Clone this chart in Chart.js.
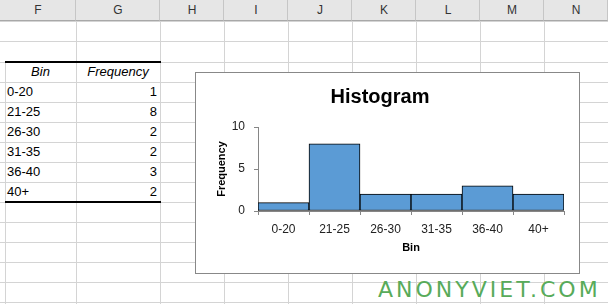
<!DOCTYPE html>
<html>
<head>
<meta charset="utf-8">
<script src="https://cdn.jsdelivr.net/npm/chart.js@4"></script>
<style>
  html, body { margin: 0; padding: 0; background: #fff; }
  #sheet { position: relative; width: 608px; height: 304px; overflow: hidden; font-family: "Liberation Sans", Arial, sans-serif; }
  .hdr { position: absolute; top: 0; height: 21px; background: #e6e6e6; border-bottom: 1px solid #a8a8a8; box-sizing: border-box; }
  .col { position: absolute; top: 0; width: 1px; background: #d4d4d4; }
  .row { position: absolute; left: 0; width: 608px; height: 1px; background: #d4d4d4; }
  .lbl { position: absolute; top: 0; height: 21px; line-height: 21px; text-align: center; font-size: 12px; color: #333; }
  .cell { position: absolute; height: 20px; line-height: 20px; font-size: 13px; color: #000; }
  .thick { position: absolute; left: 5px; width: 156px; height: 2px; background: #000; }
  #box { position: absolute; left: 195px; top: 72px; width: 385px; height: 202px; border: 1px solid #888; box-sizing: border-box; background: #fff; }
  #wm { position: absolute; left: 378px; top: 277px; font-family: "DejaVu Sans", sans-serif; font-size: 22px; letter-spacing: 3px; color: #58ab5a; }
</style>
</head>
<body>
<div id="sheet">
  <div id="box"><canvas id="myChart" width="383" height="200"></canvas></div>
  <div id="wm">ANONYVIET.COM</div>
</div>
<script>
// du lieu cua bang va bieu do
const colLetters = ['F', 'G', 'H', 'I', 'J', 'K', 'L', 'M', 'N'];
const bins = ['0-20', '21-25', '26-30', '31-35', '36-40', '40+'];
const frequency = [1, 8, 2, 2, 3, 2];
const yTicks = [0, 5, 10];

// ve luoi bang tinh
const sheet = document.getElementById('sheet');
const box = document.getElementById('box');
const colX = [0, 76, 160, 224, 288, 352, 416, 480, 544, 608];
function add(cls, css, text) {
  const d = document.createElement('div');
  d.className = cls;
  Object.assign(d.style, css);
  if (text !== undefined) d.textContent = text;
  sheet.insertBefore(d, box);
  return d;
}
const rowY = [21, 41];
for (let y = 62; y <= 302; y += 20) rowY.push(y);
rowY.forEach(y => add('row', { top: y + 'px' }));
colX.slice(1, -1).forEach(x => add('col', { left: x + 'px', height: '304px' }));
add('col', { left: '5px', top: '62px', height: '242px' });
colLetters.forEach((c, i) => {
  add('hdr', { left: colX[i] + 'px', width: (colX[i + 1] - colX[i]) + 'px', borderRight: '1px solid #c6c6c6' });
  add('lbl', { left: colX[i] + 'px', width: (colX[i + 1] - colX[i]) + 'px' }, c);
});
add('thick', { top: '61px' });
add('thick', { top: '201px' });
add('cell', { left: '5px', width: '71px', top: '62px', textAlign: 'center', fontStyle: 'italic' }, 'Bin');
add('cell', { left: '76px', width: '84px', top: '62px', textAlign: 'center', fontStyle: 'italic' }, 'Frequency');
bins.forEach((b, i) => {
  add('cell', { left: '7px', top: (82 + i * 20) + 'px' }, b);
  add('cell', { left: '76px', width: '81px', top: (82 + i * 20) + 'px', textAlign: 'right' }, frequency[i]);
});

const fam = '"Liberation Sans", Arial, sans-serif';
const axisGray = '#868686';

const data = {
  labels: bins,
  datasets: [{
    data: frequency,
    backgroundColor: '#5b9bd5',
    borderColor: '#000',
    borderWidth: 1,
    borderSkipped: false,
    categoryPercentage: 1,
    barPercentage: 1
  }]
};

const config = {
  type: 'bar',
  data: data,
  options: {
    responsive: false,
    animation: false,
    layout: { padding: { left: 0, right: 15, top: 0, bottom: 0 } },
    plugins: {
      legend: { display: false },
      tooltip: { enabled: false },
      title: {
        display: true,
        text: 'Histogram',
        color: '#000',
        font: { family: fam, size: 20, weight: 'bold' },
        padding: { top: 12, bottom: 18 }
      }
    },
    scales: {
      x: {
        grid: { drawOnChartArea: false, tickLength: 4, color: axisGray, offset: true },
        border: { color: axisGray },
        ticks: { color: '#222', font: { family: fam, size: 12 }, padding: 7, maxRotation: 0 },
        title: { display: true, text: 'Bin', color: '#000', font: { family: fam, size: 11, weight: 'bold' }, padding: { top: 0, bottom: 18 } },
        afterFit: s => { s.height = 62; }
      },
      y: {
        min: 0,
        max: 10,
        afterBuildTicks: s => { s.ticks = yTicks.map(v => ({ value: v })); },
        grid: { drawOnChartArea: false, tickLength: 4, color: axisGray },
        border: { color: axisGray },
        ticks: { color: '#222', font: { family: fam, size: 12 }, padding: 9 },
        title: { display: true, text: 'Frequency', color: '#000', font: { family: fam, size: 11, weight: 'bold' }, padding: { top: 19, bottom: 0 } },
        afterFit: s => { s.width = 62; }
      }
    }
  }
};

const myChart = new Chart(document.getElementById('myChart'), config);
</script>
</body>
</html>
